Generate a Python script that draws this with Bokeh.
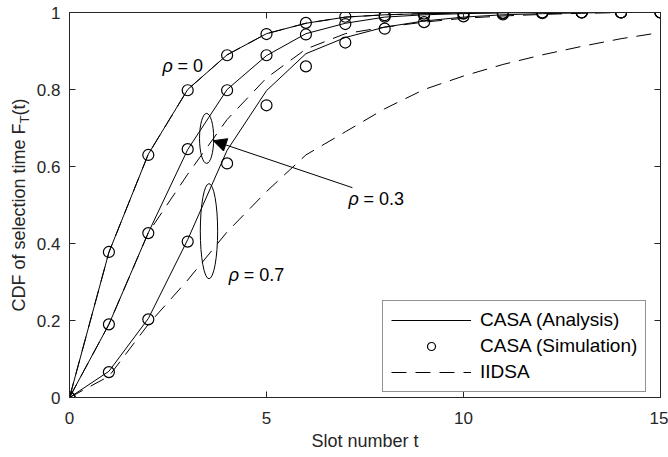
import math
from bokeh.plotting import figure
from bokeh.layouts import row
from bokeh.models import (Range1d, FixedTicker, LinearAxis, Legend, LegendItem,
                          Label, Arrow, NormalHead, CustomLabelingPolicy, Div)
from bokeh.embed import file_html
from bokeh.resources import INLINE

# ---------------- data ----------------
t = list(range(16))

casa_rho0 = [0, 0.377, 0.632, 0.800, 0.890, 0.945, 0.972, 0.988, 0.994, 0.997, 0.999, 1.0, 1.0, 1.0, 1.0, 1.0]
casa_rho3 = [0, 0.190, 0.428, 0.644, 0.800, 0.888, 0.945, 0.972, 0.988, 0.994, 0.997, 0.999, 1.0, 1.0, 1.0, 1.0]
casa_rho7 = [0, 0.068, 0.205, 0.410, 0.642, 0.797, 0.893, 0.935, 0.962, 0.978, 0.988, 0.994, 0.997, 0.999, 1.0, 1.0]

sim_rho0 = [0, 0.378, 0.630, 0.798, 0.889, 0.944, 0.973, 0.989, 0.993, 0.997, 0.998, 0.999, 1.0, 1.0, 1.0, 1.0]
sim_rho3 = [0, 0.190, 0.427, 0.645, 0.798, 0.889, 0.943, 0.970, 0.989, 0.992, 0.997, 0.998, 1.0, 1.0, 1.0, 1.0]
sim_rho7 = [0, 0.066, 0.203, 0.405, 0.608, 0.759, 0.860, 0.922, 0.958, 0.975, 0.990, 0.995, 0.998, 1.0, 1.0, 1.0]

iidsa_rho0 = [0, 0.377, 0.632, 0.800, 0.890, 0.945, 0.972, 0.988, 0.994, 0.997, 0.999, 1.0, 1.0, 1.0, 1.0, 1.0]
iidsa_rho3 = [0, 0.190, 0.428, 0.580, 0.722, 0.830, 0.905, 0.945, 0.962, 0.975, 0.985, 0.991, 0.995, 0.998, 1.0, 1.0]
iidsa_rho7 = [0, 0.055, 0.190, 0.305, 0.430, 0.535, 0.630, 0.690, 0.750, 0.800, 0.835, 0.865, 0.890, 0.912, 0.932, 0.948]

x_ticks = [0, 5, 10, 15]
y_ticks = [0, 0.2, 0.4, 0.6, 0.8, 1.0]
y_tick_labels = ["0", "0.2", "0.4", "0.6", "0.8", "1"]

# ellipses marking the rho = 0.3 and rho = 0.7 curve groups
ell_x = [3.48, 3.54]
ell_y = [0.673, 0.432]
ell_w = [0.36, 0.44]
ell_h = [0.13, 0.247]

FONT = "Liberation Sans"
INK = "#000000"
AX = "#262626"

LW = 32
H = 457

# ---------------- y-axis title (HTML, rotated) ----------------
ylab_html = (
    '<div style="position:absolute; left:0px; top:410px; width:410px; height:32px; '
    'box-sizing:border-box; padding-top:9px; margin:0; transform-origin:0 0; '
    'transform:rotate(-90deg); text-align:center; white-space:nowrap; '
    "font-family:'Liberation Sans', Arial, sans-serif; font-size:18px; line-height:normal; "
    'color:#262626;">CDF of selection time F'
    '<span style="font-size:13px; vertical-align:-4px;">T</span>(t)</div>'
)
ylab = Div(text=ylab_html, width=LW, height=H, margin=(0, 0, 0, 0))

# ---------------- main figure ----------------
p = figure(width=668 - LW, height=H, x_range=Range1d(0, 15), y_range=Range1d(0, 1),
           output_backend="svg", toolbar_location=None,
           min_border_left=69 - LW, min_border_right=8, min_border_top=12, min_border_bottom=60)
p.xgrid.visible = False
p.ygrid.visible = False
p.outline_line_color = None
p.background_fill_color = "white"
p.border_fill_color = "white"

hide_all = CustomLabelingPolicy(code="for (const i of indices) { indices.unset(i) } return indices")

def style_axis(ax, labels=True):
    ax.axis_line_color = AX
    ax.axis_line_width = 1
    ax.major_tick_line_color = AX
    ax.major_tick_in = 6
    ax.major_tick_out = 0
    ax.minor_tick_line_color = None
    ax.major_label_text_font = FONT
    ax.major_label_text_color = AX
    ax.major_label_text_font_size = "17px" if labels else "0px"
    ax.axis_label_text_font = FONT
    ax.axis_label_text_font_style = "normal"
    ax.axis_label_text_color = AX
    ax.axis_label_text_font_size = "18px"
    if not labels:
        ax.major_label_policy = hide_all

xa = p.xaxis[0]
ya = p.yaxis[0]
xa.ticker = FixedTicker(ticks=x_ticks)
ya.ticker = FixedTicker(ticks=y_ticks)
ya.major_label_overrides = {v: s for v, s in zip(y_ticks, y_tick_labels)}
style_axis(xa)
style_axis(ya)
xa.axis_label = "Slot number t"
xa.major_label_standoff = 14
xa.axis_label_standoff = 4
ya.major_label_standoff = 9

top = LinearAxis(ticker=FixedTicker(ticks=x_ticks), major_label_standoff=0)
right = LinearAxis(ticker=FixedTicker(ticks=y_ticks), major_label_standoff=0)
style_axis(top, labels=False)
style_axis(right, labels=False)
p.add_layout(top, "above")
p.add_layout(right, "right")

# ---------------- curves ----------------
r_an = None
r_sim = None
r_ii = None
for ys in (iidsa_rho0, iidsa_rho3, iidsa_rho7):
    r_ii = p.line(t, ys, line_color=INK, line_width=1, line_dash="15 9")
for ys in (casa_rho0, casa_rho3, casa_rho7):
    r_an = p.line(t, ys, line_color=INK, line_width=1)
for ys in (sim_rho0, sim_rho3, sim_rho7):
    r_sim = p.scatter(t, ys, marker="circle", size=11, fill_color=None,
                      line_color=INK, line_width=1.2)

p.ellipse(x=ell_x, y=ell_y, width=ell_w, height=ell_h, fill_color=None,
          line_color=INK, line_width=1)

p.add_layout(Arrow(end=NormalHead(size=13, fill_color=INK, line_color=INK, line_width=1),
                   x_start=7.18, y_start=0.545, x_end=3.65, y_end=0.667,
                   line_color=INK, line_width=1))

# rho labels (italic rho + normal text)
for (lx, ly, txt) in [(2.36, 0.861, "= 0"), (7.08, 0.515, "= 0.3"), (4.04, 0.317, "= 0.7")]:
    p.add_layout(Label(x=lx, y=ly, text="ρ", text_font=FONT, text_font_style="italic",
                       text_font_size="18px", text_color=INK, text_baseline="alphabetic"))
    p.add_layout(Label(x=lx, y=ly, x_offset=15, text=txt, text_font=FONT,
                       text_font_size="18px", text_color=INK, text_baseline="alphabetic"))

legend = Legend(items=[LegendItem(label="CASA (Analysis)", renderers=[r_an]),
                       LegendItem(label="CASA (Simulation)", renderers=[r_sim]),
                       LegendItem(label="IIDSA", renderers=[r_ii])],
                location=(313, 5))
legend.label_text_font = FONT
legend.label_text_font_size = "19px"
legend.label_text_color = INK
legend.glyph_width = 80
legend.glyph_height = 20
legend.label_height = 20
legend.label_standoff = 9
legend.spacing = 4
legend.padding = 8
legend.margin = 0
legend.border_line_color = AX
legend.border_line_width = 1
legend.background_fill_alpha = 1
p.add_layout(legend)

layout = row(ylab, p, spacing=0)
open("out.html", "w").write(file_html(layout, INLINE))
